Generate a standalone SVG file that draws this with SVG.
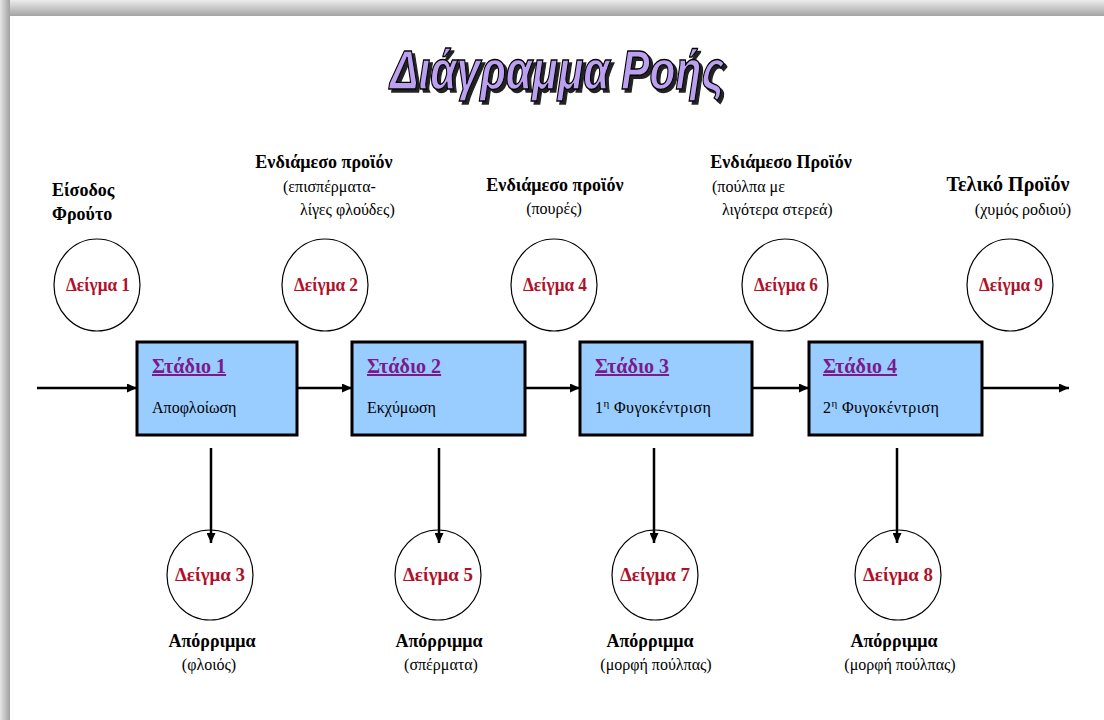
<svg xmlns="http://www.w3.org/2000/svg" width="1104" height="720" viewBox="0 0 1104 720">
  <defs>
    <linearGradient id="topBand" x1="0" y1="0" x2="0" y2="1">
      <stop offset="0" stop-color="#ececec"/>
      <stop offset="1" stop-color="#a4a4a4"/>
    </linearGradient>
    <linearGradient id="leftBand" x1="0" y1="0" x2="1" y2="0">
      <stop offset="0" stop-color="#e6e6e6"/>
      <stop offset="1" stop-color="#a0a0a0"/>
    </linearGradient>
    <!-- hard dark offset shadow for the title lettering -->
    <filter id="titleShadow" x="-5%" y="-20%" width="115%" height="150%">
      <feOffset in="SourceAlpha" dx="3" dy="3" result="off"/>
      <feFlood flood-color="#222"/>
      <feComposite in2="off" operator="in" result="shadow"/>
      <feMerge>
        <feMergeNode in="shadow"/>
        <feMergeNode in="SourceGraphic"/>
      </feMerge>
    </filter>
    <marker id="arrow" markerUnits="userSpaceOnUse" markerWidth="11" markerHeight="9" refX="10" refY="4.5" orient="auto">
      <path d="M0,0 L10,4.5 L0,9 z" fill="#000"/>
    </marker>
    <style>
      .lbl { font-family: "Liberation Serif", "DejaVu Serif", serif; fill: #000; }
      .bold { font-weight: bold; }
      .norm { font-size: 16px; }
      .head { font-size: 18px; font-weight: bold; }
      .sample { font-family: "Liberation Serif", "DejaVu Serif", serif; font-size: 18px; font-weight: bold; fill: #b0102a; text-anchor: middle; }
      .circle { fill: none; stroke: #000; stroke-width: 1.2; }
      .box { fill: #99ccff; stroke: #000; stroke-width: 3; }
      .stage { font-family: "Liberation Serif", "DejaVu Serif", serif; font-size: 20px; font-weight: bold; fill: #7a1a8c; text-decoration: underline; }
      .desc { font-family: "Liberation Serif", "DejaVu Serif", serif; font-size: 16px; fill: #000; }
      .flow { fill: none; stroke: #000; stroke-width: 2.5; marker-end: url(#arrow); }
      .mid { text-anchor: middle; }
    </style>
  </defs>

  <!-- page with soft frame -->
  <rect x="0" y="0" width="1104" height="720" fill="#fff"/>
  <rect x="0" y="0" width="1104" height="16" fill="url(#topBand)"/>
  <rect x="0" y="0" width="10" height="720" fill="url(#leftBand)"/>

  <!-- title -->
  <g id="title" filter="url(#titleShadow)">
    <text x="557" y="89" text-anchor="middle" font-family="'Liberation Sans Narrow', 'Liberation Sans', sans-serif" font-size="55" font-weight="bold" font-style="italic" textLength="334" lengthAdjust="spacingAndGlyphs" fill="#bca0f0" stroke="#000" stroke-width="1.4">Διάγραμμα Ροής</text>
  </g>

  <!-- connectors -->
  <g id="connectors">
    <path class="flow" d="M37,388 H137"/>
    <path class="flow" d="M297,388 H352"/>
    <path class="flow" d="M525,388 H580"/>
    <path class="flow" d="M752,388 H809"/>
    <path class="flow" d="M982,388 H1069"/>
    <path class="flow" d="M211,448 V543"/>
    <path class="flow" d="M439,448 V543"/>
    <path class="flow" d="M654,448 V543"/>
    <path class="flow" d="M897,448 V543"/>
  </g>

  <!-- process stages -->
  <g id="stage1">
    <rect class="box" x="137" y="342" width="160" height="93"/>
    <text class="stage" x="152" y="373">Στάδιο 1</text>
    <text class="desc" x="152" y="413">Αποφλοίωση</text>
  </g>
  <g id="stage2">
    <rect class="box" x="352" y="342" width="173" height="93"/>
    <text class="stage" x="367" y="373">Στάδιο 2</text>
    <text class="desc" x="367" y="413">Εκχύμωση</text>
  </g>
  <g id="stage3">
    <rect class="box" x="580" y="342" width="172" height="93"/>
    <text class="stage" x="595" y="373">Στάδιο 3</text>
    <text class="desc" x="595" y="413" letter-spacing="0.4">1<tspan font-size="11" dy="-6">η</tspan><tspan dy="6"> Φυγοκέντριση</tspan></text>
  </g>
  <g id="stage4">
    <rect class="box" x="809" y="342" width="173" height="93"/>
    <text class="stage" x="823" y="373">Στάδιο 4</text>
    <text class="desc" x="823" y="413" letter-spacing="0.4">2<tspan font-size="11" dy="-6">η</tspan><tspan dy="6"> Φυγοκέντριση</tspan></text>
  </g>

  <!-- sampling points above the line -->
  <g id="sample1">
    <ellipse class="circle" cx="97" cy="285" rx="43" ry="46"/>
    <text class="sample" x="98" y="291" textLength="64" lengthAdjust="spacingAndGlyphs">Δείγμα 1</text>
    <text class="lbl head" x="52" y="196">Είσοδος</text>
    <text class="lbl head" x="52" y="220">Φρούτο</text>
  </g>
  <g id="sample2">
    <ellipse class="circle" cx="325" cy="285" rx="43" ry="46"/>
    <text class="sample" x="326" y="291" textLength="64" lengthAdjust="spacingAndGlyphs">Δείγμα 2</text>
    <text class="lbl head mid" x="324" y="168">Ενδιάμεσο προϊόν</text>
    <text class="lbl norm" x="283" y="192">(επισπέρματα-</text>
    <text class="lbl norm" x="300" y="215">λίγες φλούδες)</text>
  </g>
  <g id="sample4">
    <ellipse class="circle" cx="554" cy="285" rx="43" ry="46"/>
    <text class="sample" x="555" y="291" textLength="64" lengthAdjust="spacingAndGlyphs">Δείγμα 4</text>
    <text class="lbl head mid" x="555" y="191">Ενδιάμεσο προϊόν</text>
    <text class="lbl norm mid" x="554" y="214">(πουρές)</text>
  </g>
  <g id="sample6">
    <ellipse class="circle" cx="785" cy="285" rx="43" ry="46"/>
    <text class="sample" x="786" y="291" textLength="64" lengthAdjust="spacingAndGlyphs">Δείγμα 6</text>
    <text class="lbl head mid" x="781" y="168">Ενδιάμεσο Προϊόν</text>
    <text class="lbl norm" x="712" y="192">(πούλπα με</text>
    <text class="lbl norm" x="722" y="215">λιγότερα στερεά)</text>
  </g>
  <g id="sample9">
    <ellipse class="circle" cx="1010" cy="285" rx="43" ry="46"/>
    <text class="sample" x="1011" y="291" textLength="64" lengthAdjust="spacingAndGlyphs">Δείγμα 9</text>
    <text class="lbl bold mid" x="1008" y="191" font-size="20">Τελικό Προϊόν</text>
    <text class="lbl norm mid" x="1023" y="215">(χυμός ροδιού)</text>
  </g>

  <!-- sampling points below the line -->
  <g id="sample3">
    <ellipse class="circle" cx="210" cy="575" rx="43" ry="45"/>
    <text class="sample" x="210" y="581" textLength="70" lengthAdjust="spacingAndGlyphs">Δείγμα 3</text>
    <text class="lbl head mid" x="212" y="647">Απόρριμμα</text>
    <text class="lbl norm mid" x="209" y="670">(φλοιός)</text>
  </g>
  <g id="sample5">
    <ellipse class="circle" cx="438" cy="575" rx="43" ry="45"/>
    <text class="sample" x="438" y="581" textLength="70" lengthAdjust="spacingAndGlyphs">Δείγμα 5</text>
    <text class="lbl head mid" x="439" y="647">Απόρριμμα</text>
    <text class="lbl norm mid" x="441" y="670">(σπέρματα)</text>
  </g>
  <g id="sample7">
    <ellipse class="circle" cx="655" cy="575" rx="43" ry="45"/>
    <text class="sample" x="655" y="581" textLength="70" lengthAdjust="spacingAndGlyphs">Δείγμα 7</text>
    <text class="lbl head mid" x="650" y="647">Απόρριμμα</text>
    <text class="lbl norm mid" x="656" y="670">(μορφή πούλπας)</text>
  </g>
  <g id="sample8">
    <ellipse class="circle" cx="898" cy="575" rx="43" ry="45"/>
    <text class="sample" x="898" y="581" textLength="70" lengthAdjust="spacingAndGlyphs">Δείγμα 8</text>
    <text class="lbl head mid" x="894" y="647">Απόρριμμα</text>
    <text class="lbl norm mid" x="900" y="670">(μορφή πούλπας)</text>
  </g>
</svg>
